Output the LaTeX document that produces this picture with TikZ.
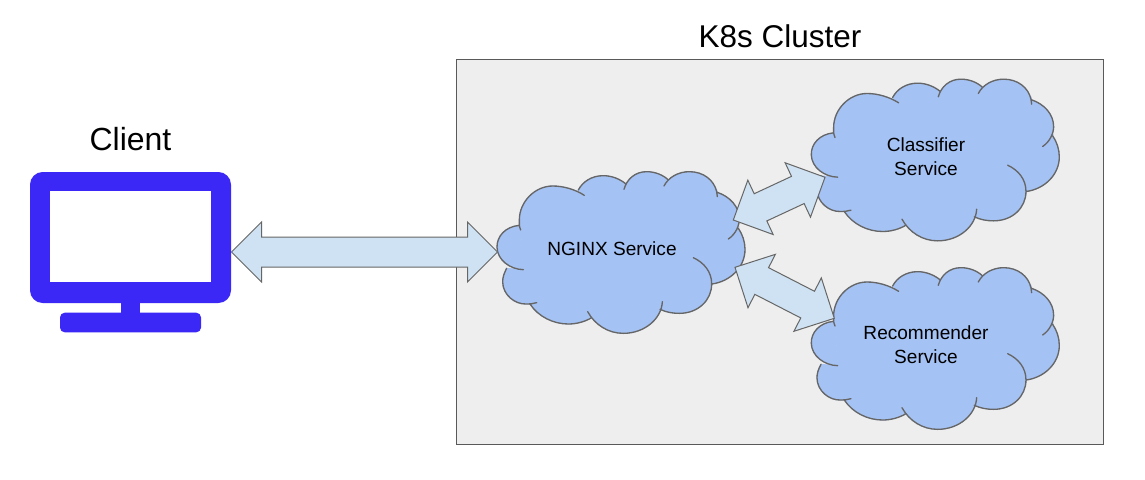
\documentclass[tikz,border=0pt]{standalone}
\usepackage{fontspec}
\setmainfont{Liberation Sans}
\usetikzlibrary{calc}
\definecolor{cloudblue}{HTML}{A4C2F4}
\definecolor{arrowblue}{HTML}{CFE2F3}
\definecolor{linegrey}{HTML}{666666}
\definecolor{boxgrey}{HTML}{EEEEEE}
\definecolor{boxline}{HTML}{595959}
\definecolor{screenblue}{HTML}{3B28F6}
\tikzset{
  clusterbox/.style={draw=boxline,fill=boxgrey,line width=0.75pt},
  cloudbody/.style={fill=cloudblue,draw=cloudblue,line width=0.6pt},
  cloudline/.style={draw=linegrey,line width=1pt,line cap=round},
  blockarrow/.style={draw=linegrey,fill=arrowblue,line width=0.75pt,line join=miter},
  servicelabel/.style={font=\fontsize{14.3}{18}\selectfont,align=center,text=black,inner sep=0pt},
  titlelabel/.style={font=\fontsize{24}{28}\selectfont,text=black,inner sep=0pt},
}
\newcommand{\lobepaths}{
  (92,210) .. controls (90,203) and (88,200) .. (88,196) .. controls (45,200) and (20,230) .. (21,262) .. controls (22,300) and (60,328) .. (100,329)
  (50,325) .. controls (42,340) and (38,352) .. (38,365) .. controls (38,405) and (75,433) .. (108,432) .. controls (120,432) and (130,431) .. (140,428)
  (120,432) .. controls (145,470) and (190,492) .. (235,492) .. controls (260,492) and (285,485) .. (305,473)
  (293,455) .. controls (315,495) and (355,520) .. (400,520) .. controls (465,520) and (515,475) .. (517,425)
  (510,448) .. controls (530,457) and (548,460) .. (568,460) .. controls (625,460) and (665,420) .. (665,372) .. controls (665,335) and (642,308) .. (610,293)
  (665,372) .. controls (720,365) and (765,322) .. (765,268) .. controls (765,245) and (757,222) .. (745,205)
  (715,237) .. controls (738,222) and (748,195) .. (748,178) .. controls (748,140) and (720,110) .. (682,97)
  (682,110) .. controls (682,105) and (681,100) .. (680,95) .. controls (672,60) and (640,35) .. (598,35) .. controls (565,35) and (535,52) .. (522,78)
  (535,60) .. controls (520,45) and (495,35) .. (470,35) .. controls (435,35) and (410,58) .. (402,88)
  (408,72) .. controls (390,57) and (365,47) .. (340,47) .. controls (305,47) and (278,65) .. (265,90)
  (283,106) .. controls (255,88) and (220,78) .. (188,78) .. controls (135,78) and (88,125) .. (88,180) .. controls (88,186) and (88,191) .. (88,196)
}
\newcommand{\cloudat}[2]{%
  \begin{scope}[shift={(#1,#2)},x=0.25pt,y=-0.25pt]
    \path[cloudbody] (92,210)--(100,329)--(50,325)--(140,428)--(120,432)--(305,473)--(293,455)--(517,425)--(510,448)--(610,293)--(665,372)--(745,205)--(715,237)--(682,97)--(682,110)--(522,78)--(535,60)--(402,88)--(408,72)--(265,90)--(283,106)--(88,196)--cycle;
    \path[cloudbody] \lobepaths;
    \draw[cloudline] \lobepaths;
  \end{scope}}
\newcommand{\doublearrow}[2]{%
  \draw[blockarrow] let \p1=($(#2)-(#1)$), \n1={atan2(\y1,\x1)} in
    (#1)
    -- ([shift={(#1)},rotate=\n1]22.5pt,22.5pt)
    -- ([shift={(#1)},rotate=\n1]22.5pt,11.25pt)
    -- ([shift={(#2)},rotate=\n1]-22.5pt,11.25pt)
    -- ([shift={(#2)},rotate=\n1]-22.5pt,22.5pt)
    -- (#2)
    -- ([shift={(#2)},rotate=\n1]-22.5pt,-22.5pt)
    -- ([shift={(#2)},rotate=\n1]-22.5pt,-11.25pt)
    -- ([shift={(#1)},rotate=\n1]22.5pt,-11.25pt)
    -- ([shift={(#1)},rotate=\n1]22.5pt,-22.5pt)
    -- cycle;}
\begin{document}
\begin{tikzpicture}[x=0.75pt,y=-0.75pt]
\useasboundingbox (0,0) rectangle (1145,479);
\fill[white] (0,0) rectangle (1145,479);
\path[clusterbox] (456.5,59.5) rectangle (1103.5,444.5);
\node[titlelabel,font=\fontsize{23.6}{28}\selectfont] (clustertitle) at (780,36) {K8s Cluster};
\node[titlelabel] (clienttitle) at (130.5,139) {Client};
\fill[screenblue,rounded corners=9.5pt] (30,172) rectangle (231,303);
\fill[white] (50,191) rectangle (211,282.3);
\fill[screenblue] (120.7,300) rectangle (140.3,315);
\fill[screenblue,rounded corners=3.5pt] (60,312.7) rectangle (201,332.3);
\cloudat{490}{160}
\cloudat{804.3}{67.5}
\cloudat{804.3}{256}
\node[servicelabel] (nginx) at (612,248.5) {NGINX Service};
\node[servicelabel,text width=130pt] (classifier) at (926,156.5) {Classifier\\[0pt]Service};
\node[servicelabel,text width=130pt] (recommender) at (926,344.5) {Recommender\\[0pt]Service};
\coordinate (clientport) at (231.5,252);
\coordinate (nginxleft) at (497.5,252);
\coordinate (nginxupper) at (733.3,220);
\coordinate (classifierport) at (825,177.3);
\coordinate (nginxlower) at (735,267.3);
\coordinate (recommenderport) at (834.3,318.3);
\doublearrow{clientport}{nginxleft}
\doublearrow{nginxupper}{classifierport}
\doublearrow{nginxlower}{recommenderport}
\end{tikzpicture}
\end{document}
